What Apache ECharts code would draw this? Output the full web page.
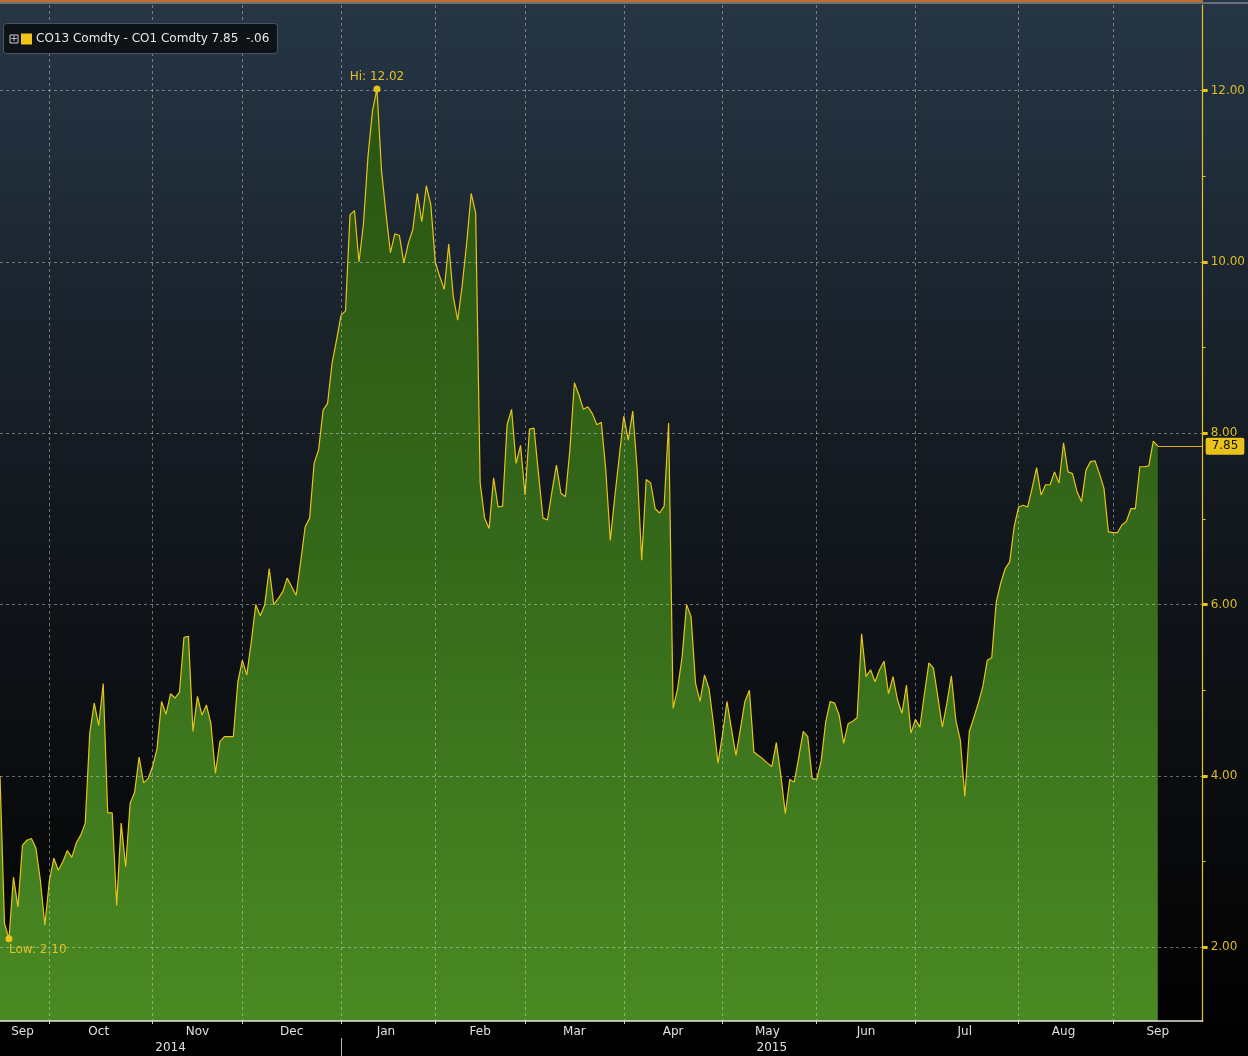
<!DOCTYPE html>
<html>
<head>
<meta charset="utf-8">
<script src="https://cdn.jsdelivr.net/npm/echarts@6/dist/echarts.min.js"></script>
<style>
  html, body { margin: 0; padding: 0; background: #000; }
  #chart { width: 1248px; height: 1056px; }
</style>
</head>
<body>
<div id="chart"></div>
<script>
// ---- data ----
const seriesName = 'CO13 Comdty - CO1 Comdty';
const startDate = '2014-09-16';
const endDate = '2015-09-29';
const holidays = ['2014-12-25', '2015-01-01'];
const monthNames = ['Jan','Feb','Mar','Apr','May','Jun','Jul','Aug','Sep','Oct','Nov','Dec'];
const yTickValues = [2, 4, 6, 8, 10, 12];
const yMinorTickValues = [3, 5, 7, 9, 11];
const spreadValues = [
  4.00, 2.28, 2.10, 2.82, 2.47, 3.19, 3.25, 3.27, 3.16, 2.78,
  2.26, 2.78, 3.04, 2.90, 3.00, 3.13, 3.05, 3.22, 3.31, 3.45,
  4.50, 4.85, 4.59, 5.08, 3.57, 3.57, 2.49, 3.45, 2.94, 3.68,
  3.81, 4.22, 3.92, 3.97, 4.11, 4.32, 4.87, 4.72, 4.96, 4.91,
  4.98, 5.62, 5.63, 4.52, 4.93, 4.71, 4.83, 4.61, 4.03, 4.40,
  4.46, 4.46, 4.46, 5.10, 5.35, 5.18, 5.57, 6.00, 5.87, 6.00,
  6.42, 6.00, 6.07, 6.15, 6.31, 6.21, 6.11, 6.50, 6.91, 7.01,
  7.65, 7.81, 8.27, 8.35, 8.82, 9.09, 9.38, 9.43, 10.55, 10.60,
  10.00, 10.45, 11.23, 11.76, 12.02, 11.08, 10.57, 10.11, 10.33, 10.31,
  9.99, 10.22, 10.38, 10.80, 10.47, 10.89, 10.67, 10.00, 9.83, 9.68,
  10.21, 9.60, 9.32, 9.73, 10.22, 10.80, 10.57, 7.42, 7.01, 6.89,
  7.48, 7.14, 7.15, 8.10, 8.28, 7.65, 7.86, 7.28, 8.05, 8.06,
  7.53, 7.01, 6.99, 7.32, 7.63, 7.30, 7.26, 7.81, 8.59, 8.45,
  8.28, 8.31, 8.23, 8.10, 8.13, 7.57, 6.75, 7.26, 7.73, 8.20,
  7.92, 8.26, 7.57, 6.52, 7.46, 7.42, 7.12, 7.07, 7.15, 8.12,
  4.79, 5.02, 5.39, 6.00, 5.86, 5.08, 4.87, 5.18, 5.02, 4.61,
  4.15, 4.48, 4.87, 4.55, 4.24, 4.55, 4.87, 5.00, 4.28, 4.24,
  4.20, 4.15, 4.11, 4.39, 4.01, 3.56, 3.96, 3.93, 4.22, 4.52,
  4.46, 3.97, 3.96, 4.18, 4.63, 4.87, 4.85, 4.71, 4.38, 4.61,
  4.64, 4.68, 5.66, 5.16, 5.24, 5.10, 5.24, 5.34, 4.96, 5.16,
  4.89, 4.73, 5.06, 4.50, 4.66, 4.57, 4.96, 5.32, 5.26, 4.92,
  4.57, 4.85, 5.17, 4.65, 4.42, 3.76, 4.52, 4.68, 4.85, 5.04,
  5.35, 5.38, 6.03, 6.25, 6.42, 6.50, 6.91, 7.14, 7.16, 7.14,
  7.36, 7.60, 7.28, 7.40, 7.40, 7.55, 7.42, 7.89, 7.55, 7.53,
  7.32, 7.20, 7.57, 7.67, 7.68, 7.53, 7.36, 6.85, 6.84, 6.84,
  6.93, 6.97, 7.12, 7.12, 7.61, 7.61, 7.62, 7.91, 7.85
];

// ---- build trading-day categories ----
function pad2(n) { return (n < 10 ? '0' : '') + n; }
const dates = [];
(function () {
  const d = new Date(startDate + 'T00:00:00Z');
  const end = new Date(endDate + 'T00:00:00Z');
  while (d <= end) {
    const wd = d.getUTCDay();
    const s = d.getUTCFullYear() + '-' + pad2(d.getUTCMonth() + 1) + '-' + pad2(d.getUTCDate());
    if (wd !== 0 && wd !== 6 && holidays.indexOf(s) < 0) dates.push(s);
    d.setUTCDate(d.getUTCDate() + 1);
  }
})();
const seriesData = spreadValues.concat(new Array(Math.max(0, dates.length - spreadValues.length)).fill(null));

// month starts, month mid-points, year mid-points
const monthStart = new Set();
const monthMid = new Set();
const yearMid = new Set();
const yearStart = new Set();
(function () {
  const groups = [];
  const ygroups = [];
  dates.forEach((s, i) => {
    const key = s.slice(0, 7);
    const y = s.slice(0, 4);
    if (!groups.length || groups[groups.length - 1].key !== key) groups.push({ key, first: i, last: i });
    else groups[groups.length - 1].last = i;
    if (!ygroups.length || ygroups[ygroups.length - 1].key !== y) ygroups.push({ key: y, first: i, last: i });
    else ygroups[ygroups.length - 1].last = i;
  });
  groups.forEach((g, k) => {
    if (k > 0) monthStart.add(g.first);
    monthMid.add(Math.round((g.first + g.last) / 2));
  });
  ygroups.forEach((g, k) => {
    if (k > 0) yearStart.add(g.first);
    yearMid.add(Math.round((g.first + g.last) / 2));
  });
})();

const lastIdx = spreadValues.length - 1;
const lastVal = spreadValues[lastIdx];
const chg = lastVal - spreadValues[lastIdx - 1];
const chgText = chg.toFixed(2).replace('0.', '.');

const FONT = 'DejaVu Sans';
const YELLOW = '#e8c31c';

const chart = echarts.init(document.getElementById('chart'), null, { renderer: 'canvas' });
chart.setOption({
  animation: false,
  backgroundColor: {
    type: 'linear', x: 0, y: 0, x2: 0, y2: 1,
    colorStops: [
      { offset: 0, color: '#263646' },
      { offset: 0.45, color: '#141a21' },
      { offset: 0.9, color: '#050505' },
      { offset: 1, color: '#000000' }
    ]
  },
  textStyle: { fontFamily: FONT },
  graphic: [
    { type: 'rect', left: 0, top: 0, shape: { width: 1203, height: 2 }, style: { fill: '#c66a2a' }, silent: true },
    { type: 'rect', left: 0, top: 2, shape: { width: 1248, height: 2 }, style: { fill: '#6c7278' }, silent: true }
  ],
  title: {
    left: 4, top: 26,
    padding: [7, 8, 6, 6],
    backgroundColor: '#0e1318',
    borderColor: '#4c5661',
    borderWidth: 1,
    borderRadius: 3,
    text: '{plus|+}{gap|}{sq|}{t|' + seriesName + ' ' + lastVal.toFixed(2) + '  ' + chgText + '}',
    textStyle: {
      fontWeight: 'normal',
      rich: {
        plus: { fontFamily: FONT, fontSize: 9, fontWeight: 'normal', color: '#dddddd', borderColor: '#cfcfcf', borderWidth: 1, width: 8, height: 8, lineHeight: 8, align: 'center' },
        gap: { width: 3, height: 8 },
        sq: { backgroundColor: '#f0c419', width: 11, height: 11 },
        t: { fontFamily: FONT, fontSize: 12, fontWeight: 'normal', color: '#e6e6e6', padding: [0, 0, 0, 4] }
      }
    }
  },
  grid: { left: 0, right: 45, top: 5, bottom: 35, containLabel: false },
  xAxis: [
    {
      type: 'category',
      data: dates,
      boundaryGap: false,
      position: 'bottom',
      z: 3,
      axisLine: { show: true, lineStyle: { color: '#e6e6dc', width: 1.5 } },
      axisTick: { show: true, interval: (i) => monthStart.has(i), length: 3, lineStyle: { color: '#cccccc' } },
      axisLabel: {
        interval: (i) => monthMid.has(i),
        formatter: (v) => monthNames[parseInt(v.slice(5, 7), 10) - 1],
        color: '#e0e0e0', fontFamily: FONT, fontSize: 12, margin: 5
      },
      splitLine: {
        show: true,
        interval: (i) => monthStart.has(i),
        lineStyle: { color: 'rgba(220,220,220,0.45)', type: [3, 3], width: 1 }
      }
    },
    {
      type: 'category',
      data: dates,
      boundaryGap: false,
      position: 'bottom',
      offset: 17,
      axisLine: { show: false },
      axisTick: { show: true, interval: (i) => yearStart.has(i), length: 18, lineStyle: { color: '#bbbbbb' } },
      axisLabel: {
        interval: (i) => yearMid.has(i),
        formatter: (v) => v.slice(0, 4),
        color: '#e0e0e0', fontFamily: FONT, fontSize: 12, margin: 4
      },
      splitLine: { show: false }
    }
  ],
  yAxis: [
    {
      type: 'value',
      position: 'right',
      min: 1.14, max: 13,
      z: 3,
      axisLine: { show: true, lineStyle: { color: YELLOW, width: 1.2 } },
      axisTick: { show: true, customValues: yTickValues, length: 5, lineStyle: { color: YELLOW, width: 3 } },
      axisLabel: {
        customValues: yTickValues,
        formatter: (v) => v.toFixed(2),
        color: '#dcbc2a', fontFamily: FONT, fontSize: 12, margin: 8
      },
      splitLine: { show: true, lineStyle: { color: 'rgba(220,220,220,0.45)', type: [3, 3], width: 1 } }
    },
    {
      type: 'value',
      position: 'right',
      min: 1.14, max: 13,
      axisLine: { show: false },
      axisTick: { show: true, customValues: yMinorTickValues, length: 3, lineStyle: { color: YELLOW, width: 1 } },
      axisLabel: { show: false },
      splitLine: { show: false }
    }
  ],
  series: [
    {
      name: seriesName,
      type: 'line',
      data: seriesData,
      xAxisIndex: 0,
      yAxisIndex: 0,
      showSymbol: false,
      symbol: 'none',
      connectNulls: false,
      z: 2,
      lineStyle: { color: YELLOW, width: 1.2 },
      areaStyle: {
        opacity: 1,
        color: {
          type: 'linear', x: 0, y: 0, x2: 0, y2: 1,
          colorStops: [
            { offset: 0, color: '#2a5512' },
            { offset: 0.5, color: '#35691a' },
            { offset: 1, color: '#4a8a22' }
          ]
        }
      },
      markPoint: {
        symbol: 'circle',
        symbolSize: 7,
        itemStyle: { color: YELLOW },
        data: [
          {
            type: 'max', name: 'Hi',
            label: { show: true, position: 'top', distance: 3, formatter: (p) => 'Hi: ' + p.value.toFixed(2), color: '#e0c02a', fontFamily: FONT, fontSize: 12 }
          },
          {
            type: 'min', name: 'Low',
            label: { show: true, position: 'bottom', align: 'left', distance: 2, formatter: (p) => 'Low: ' + p.value.toFixed(2), color: '#e0c02a', fontFamily: FONT, fontSize: 12 }
          }
        ]
      },
      markLine: {
        silent: true,
        symbol: ['none', 'none'],
        lineStyle: { color: '#e8a91c', type: 'solid', width: 1.2 },
        label: {
          show: true, position: 'end', distance: 3,
          formatter: () => lastVal.toFixed(2),
          backgroundColor: YELLOW, color: '#111111',
          fontFamily: FONT, fontSize: 12, padding: [3, 6, 2, 6], borderRadius: 2
        },
        data: [
          [ { coord: [lastIdx, lastVal] }, { coord: [dates.length - 1, lastVal] } ]
        ]
      }
    }
  ]
});
</script>
</body>
</html>
